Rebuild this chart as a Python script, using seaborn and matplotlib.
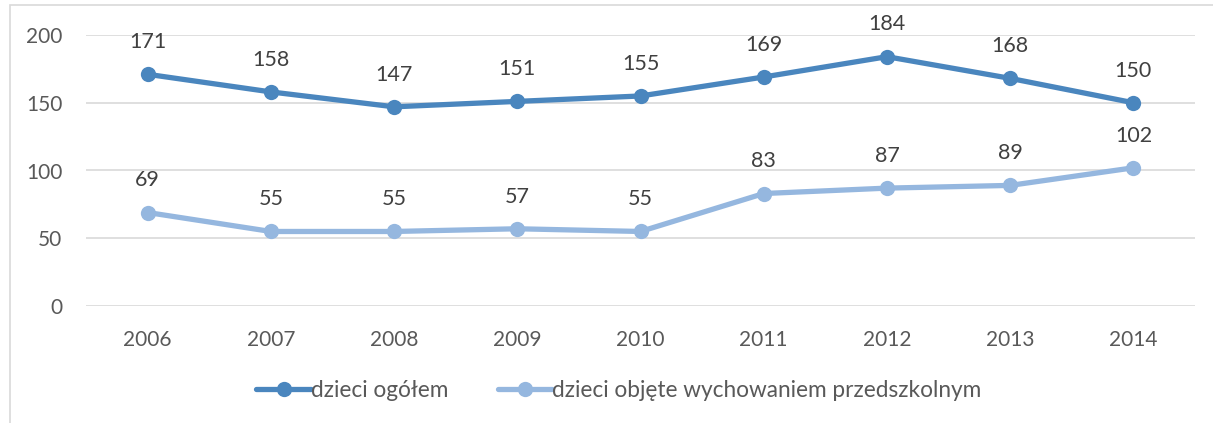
import numpy as np
import pandas as pd
import matplotlib
matplotlib.use("Agg")
import matplotlib.pyplot as plt
import seaborn as sns
from matplotlib.patches import Rectangle
from matplotlib.lines import Line2D

years = ["2006", "2007", "2008", "2009", "2010", "2011", "2012", "2013", "2014"]
ogolem = [171, 158, 147, 151, 155, 169, 184, 168, 150]
przedszkolne = [69, 55, 55, 57, 55, 83, 87, 89, 102]
series_names = ["dzieci ogółem", "dzieci objęte wychowaniem przedszkolnym"]
colors = ["#4A86BE", "#95B7DF"]

sns.set_style("white")
plt.rcParams['font.family'] = ['Lato', 'DejaVu Sans']
txt = "#595959"

df = pd.DataFrame({
    "rok": years * 2,
    "x": list(range(len(years))) * 2,
    "val": ogolem + przedszkolne,
    "seria": [series_names[0]] * len(years) + [series_names[1]] * len(years),
})

fig = plt.figure(figsize=(12.13, 4.23), dpi=100)
ax = fig.add_axes([86/1213, 1-306/423, (1195-86)/1213, (306-35)/423])

sns.lineplot(data=df, x="x", y="val", hue="seria", palette=colors, ax=ax,
             linewidth=3.8, marker="o", markersize=11, markeredgewidth=0,
             legend=False, sort=False)

for vals in (ogolem, przedszkolne):
    for i, v in enumerate(vals):
        ax.annotate(str(v), (i, v), xytext=(0, 16), textcoords="offset points",
                    ha="center", va="bottom", fontsize=15.5, color="#404040")

ax.set_xlim(-0.5, len(years) - 0.5)
ax.set_ylim(0, 200)
ax.set_yticks([0, 50, 100, 150, 200])
ax.set_xticks(range(len(years)))
ax.set_xticklabels(years)
ax.tick_params(axis="both", labelsize=15, colors=txt, length=0)
ax.tick_params(axis="x", pad=17)
ax.tick_params(axis="y", pad=17)
ax.grid(axis="y", color="#D9D9D9", linewidth=1.2)
ax.set_axisbelow(True)
for s in ax.spines.values():
    s.set_visible(False)
ax.set_xlabel("")
ax.set_ylabel("")

handles = [Line2D([0], [0], color=c, lw=3.8, marker="o", markersize=11, markeredgewidth=0) for c in colors]
leg = fig.legend(handles, series_names, loc="center", bbox_to_anchor=(619/1213, 1-390/423),
                 ncol=2, frameon=False, fontsize=16.3, handlelength=2.4, handletextpad=0.0,
                 columnspacing=2.2)
for t in leg.get_texts():
    t.set_color(txt)

fig.patches.append(Rectangle((10/1213, -0.1), 1.2, 1 - 5/423 + 0.1, transform=fig.transFigure,
                             fill=False, edgecolor="#D9D9D9", linewidth=1.2))

fig.savefig("out.png", dpi=100)
